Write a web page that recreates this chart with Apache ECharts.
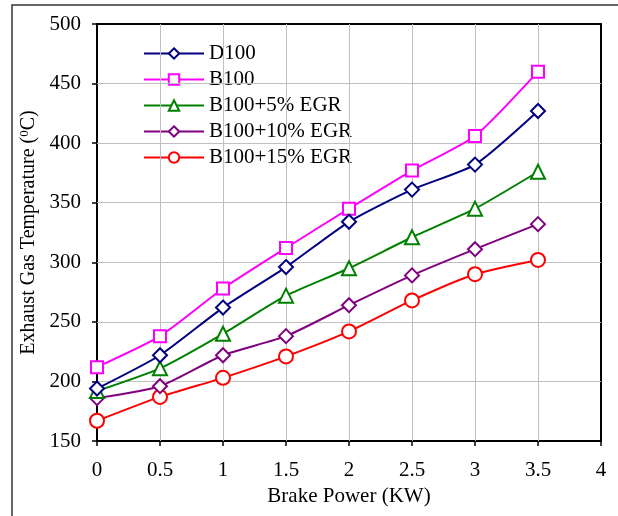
<!DOCTYPE html>
<html>
<head>
<meta charset="utf-8">
<script src="https://cdn.jsdelivr.net/npm/echarts@6/dist/echarts.min.js"></script>
<style>html,body{margin:0;padding:0;background:#fff;}#c{width:618px;height:516px;}</style>
</head>
<body>
<div id="c"></div>
<script>
var power = [0, 0.5, 1, 1.5, 2, 2.5, 3, 3.5];
var seriesNames = ['D100', 'B100', 'B100+5% EGR', 'B100+10% EGR', 'B100+15% EGR'];
var d100 = [194, 222, 262, 296, 334, 361, 382, 427];
var b100 = [212, 238, 278, 312, 345, 377, 406, 460];
var egr5 = [192, 211, 240, 272, 295, 321, 345, 376];
var egr10 = [186, 196, 222, 238, 264, 289, 311, 332];
var egr15 = [167, 187, 203, 221, 242, 268, 290, 302];
var xGridTicks = [0.5, 1, 1.5, 2, 2.5, 3, 3.5];
var yGridTicks = [200, 250, 300, 350, 400, 450];
var colors = ['#000080', '#FF00FF', '#008000', '#800080', '#FF0000'];
var symbols = ['diamond', 'rect', 'triangle', 'diamond', 'circle'];
var values = [d100, b100, egr5, egr10, egr15];

var font = 'Liberation Serif';
var series = values.map(function (v, i) {
  return {
    name: seriesNames[i],
    type: 'line',
    smooth: 0.2,
    data: power.map(function (x, j) { return [x, v[j]]; }),
    symbol: symbols[i],
    symbolSize: symbols[i] === 'rect' ? 12 : 14,
    showAllSymbol: true,
    lineStyle: { color: colors[i], width: 2 },
    itemStyle: { color: '#fff', borderColor: colors[i], borderWidth: 2 },
    z: 10 - i
  };
});

// gridlines drawn as mark lines on an empty helper series
series.unshift({
  name: 'grid', type: 'line', data: [], z: 1, silent: true,
  markLine: {
    silent: true, symbol: 'none', animation: false,
    label: { show: false },
    lineStyle: { color: '#c0c0c0', width: 1, type: 'solid' },
    emphasis: { disabled: true },
    data: xGridTicks.map(function (t) { return { xAxis: t }; })
      .concat(yGridTicks.map(function (t) { return { yAxis: t }; }))
  }
});

var chart = echarts.init(document.getElementById('c'));
chart.setOption({
  animation: false,
  backgroundColor: '#fff',
  graphic: [{
    type: 'rect', silent: true, z: -10,
    shape: { x: 12, y: 5, width: 620, height: 520 },
    style: { fill: null, stroke: '#333', lineWidth: 1.5 }
  }],
  grid: { left: 97, top: 24, right: 17, bottom: 75, show: false },
  legend: {
    orient: 'vertical', left: 138, top: 38,
    itemWidth: 60, itemHeight: 13, itemGap: 5,
    textStyle: { fontFamily: font, fontSize: 21, color: '#000' },
    data: seriesNames.map(function (n) { return { name: n }; })
  },
  xAxis: [{
    type: 'value', min: 0, max: 4, interval: 0.5,
    name: 'Brake Power (KW)', nameLocation: 'middle', nameGap: 45,
    nameTextStyle: { fontFamily: font, fontSize: 21, color: '#000' },
    axisLine: { show: true, onZero: false, lineStyle: { color: '#000', width: 2 } },
    axisTick: { show: true, inside: false, length: 5, lineStyle: { color: '#000', width: 1.5 } },
    axisLabel: { fontFamily: font, fontSize: 21, color: '#000', margin: 19 },
    splitLine: { show: false }
  }, {
    type: 'value', min: 0, max: 4, interval: 0.5, position: 'top',
    axisLine: { show: true, onZero: false, lineStyle: { color: '#000', width: 2 } },
    axisTick: { show: false }, axisLabel: { show: false }, splitLine: { show: false }
  }],
  yAxis: [{
    type: 'value', min: 150, max: 500, interval: 50,
    name: 'Exhaust Gas Temperature ({sup|0}C)', nameLocation: 'middle', nameGap: 53,
    nameTextStyle: { fontFamily: font, fontSize: 20, color: '#000',
      rich: { sup: { fontFamily: font, fontSize: 13, verticalAlign: 'top', padding: [0, 0, 8, 0] } } },
    axisLine: { show: true, onZero: false, lineStyle: { color: '#000', width: 2 } },
    axisTick: { show: true, inside: false, length: 5, lineStyle: { color: '#000', width: 1.5 } },
    axisLabel: { fontFamily: font, fontSize: 21, color: '#000', margin: 16 },
    splitLine: { show: false }
  }, {
    type: 'value', min: 150, max: 500, interval: 50, position: 'right',
    axisLine: { show: true, onZero: false, lineStyle: { color: '#000', width: 2 } },
    axisTick: { show: false }, axisLabel: { show: false }, splitLine: { show: false }
  }],
  series: series
});
</script>
</body>
</html>
